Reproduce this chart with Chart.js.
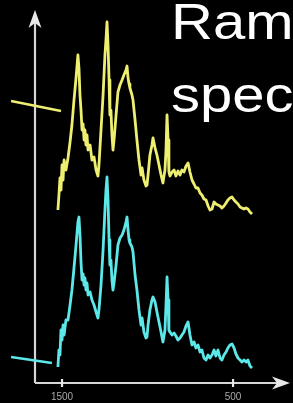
<!DOCTYPE html>
<html>
<head>
<meta charset="utf-8">
<script src="https://cdn.jsdelivr.net/npm/chart.js@4.4.1/dist/chart.umd.min.js"></script>
<style>
html, body { margin: 0; padding: 0; background: #000; }
canvas { display: block; }
</style>
</head>
<body>
<canvas id="raman" width="293" height="403"></canvas>
<script>
// Raman shift (cm-1)
const wavenumbers = [
    1524, 1518, 1512, 1506, 1500, 1494, 1488, 1477, 1465, 1453, 1442, 1430, 1418, 1407,
    1401, 1395, 1389, 1383, 1377, 1371, 1366, 1360, 1354, 1348, 1336, 1325, 1313, 1301,
    1290, 1284, 1272, 1260, 1249, 1243, 1237, 1231, 1225, 1220, 1214, 1208, 1202, 1196,
    1184, 1173, 1161, 1149, 1138, 1126, 1120, 1114, 1108, 1103, 1091, 1085, 1073, 1062,
    1050, 1038, 1032, 1021, 1009, 1003, 997, 986, 974, 968, 956, 945, 933, 921, 910, 904,
    898, 892, 886, 880, 875, 869, 857, 845, 834, 822, 810, 799, 787, 775, 763, 752, 740,
    728, 717, 705, 693, 682, 670, 658, 646, 635, 623, 611, 600, 588, 576, 565, 553, 541,
    530, 518, 506, 494, 483, 471, 459, 448, 436, 424, 413, 401, 389
];

// upper (yellow) trace, arbitrary intensity units
const upperSpectrum = [
    173, 188, 205, 193, 218, 203, 223, 213, 225, 241, 258, 283, 305, 328,
    315, 288, 273, 253, 259, 243, 253, 238, 248, 233, 238, 223, 226, 213,
    207, 218, 253, 288, 328, 343, 361, 338, 303, 268, 273, 248, 233, 243,
    268, 291, 298, 303, 308, 313, 317, 305, 299, 295, 288, 283, 263, 243,
    223, 208, 215, 203, 197, 198, 208, 228, 238, 245, 235, 228, 218, 208, 200, 207,
    213, 233, 268, 243, 211, 207, 211, 213, 207, 212, 208, 213, 211, 217, 220, 211, 203,
    199, 195, 195, 190, 188, 184, 183, 177, 173, 174, 181, 179, 178, 177, 175, 177, 180,
    183, 185, 186, 183, 181, 179, 176, 175, 174, 175, 174, 171, 169
];

// lower (cyan) trace
const lowerSpectrum = [
    16, 33, 28, 53, 43, 58, 48, 63, 63, 78, 93, 115, 138, 161,
    166, 148, 121, 103, 109, 98, 105, 93, 100, 88, 91, 83, 78, 71,
    65, 73, 98, 133, 173, 193, 206, 183, 143, 118, 123, 103, 93, 100,
    118, 138, 145, 148, 153, 161, 166, 153, 143, 140, 136, 131, 108, 93,
    73, 58, 65, 51, 45, 46, 58, 73, 83, 86, 81, 71, 61, 51, 41, 47,
    53, 78, 106, 83, 53, 51, 48, 50, 47, 43, 45, 48, 51, 57, 61, 48, 38,
    41, 35, 38, 31, 33, 25, 23, 28, 25, 28, 33, 27, 33, 25, 23, 28, 31,
    35, 38, 39, 35, 29, 25, 23, 21, 23, 21, 23, 17, 15
];

// short pointer lines at the left of each trace
const upperPointerX = [1798, 1506];
const upperPointerY = [282, 272];
const lowerPointerX = [1798, 1559];
const lowerPointerY = [26, 20];

const xTicks = [1500, 500];
const titleLines = ['Ram', 'spec'];

const yellow = '#eeee70';
const cyan = '#5ce8e8';

function toPoints(xs, ys) {
    return xs.map((x, i) => ({ x: x, y: ys[i] }));
}

const arrowAxes = {
    id: 'arrowAxes',
    beforeDatasetsDraw(chart) {
        const { ctx, chartArea, scales } = chart;
        const left = chartArea.left;
        const bottom = chartArea.bottom;
        const top = chartArea.top;
        const right = chartArea.right;
        ctx.save();
        ctx.strokeStyle = '#d6d6d6';
        ctx.fillStyle = '#e8e8e8';
        ctx.lineWidth = 2.2;
        ctx.beginPath();
        ctx.moveTo(left, bottom);
        ctx.lineTo(left, top + 12);
        ctx.moveTo(left, bottom);
        ctx.lineTo(right - 12, bottom);
        ctx.stroke();

        // arrow heads
        ctx.beginPath();
        ctx.moveTo(left, top);
        ctx.lineTo(left - 6.5, top + 18);
        ctx.lineTo(left, top + 13);
        ctx.lineTo(left + 6.5, top + 18);
        ctx.closePath();
        ctx.fill();
        ctx.beginPath();
        ctx.moveTo(right, bottom);
        ctx.lineTo(right - 18, bottom - 6.5);
        ctx.lineTo(right - 13, bottom);
        ctx.lineTo(right - 18, bottom + 6.5);
        ctx.closePath();
        ctx.fill();

        // tick marks and labels
        ctx.font = '10px "Liberation Sans", Arial, sans-serif';
        ctx.textAlign = 'center';
        ctx.textBaseline = 'middle';
        xTicks.forEach((v) => {
            const x = scales.x.getPixelForValue(v);
            ctx.strokeStyle = '#e8e8e8';
            ctx.beginPath();
            ctx.moveTo(x, bottom - 4);
            ctx.lineTo(x, bottom + 4);
            ctx.stroke();
            ctx.fillStyle = '#a8a8a8';
            ctx.fillText(String(v), x, bottom + 14);
        });
        ctx.restore();
    }
};

const slideText = {
    id: 'slideText',
    afterDraw(chart) {
        const ctx = chart.ctx;
        ctx.save();
        ctx.fillStyle = '#ffffff';
        ctx.font = '50px "Liberation Sans", Arial, sans-serif';
        ctx.textAlign = 'left';
        ctx.textBaseline = 'alphabetic';
        const baselines = [39, 112];
        titleLines.forEach((line, i) => {
            ctx.save();
            ctx.translate(171, baselines[i]);
            ctx.scale(1.16, 1);
            ctx.fillText(line, 0, 0);
            ctx.restore();
        });
        ctx.restore();
    }
};

new Chart(document.getElementById('raman'), {
    type: 'line',
    data: {
        datasets: [
            {
                data: toPoints(wavenumbers, upperSpectrum),
                borderColor: yellow,
                borderWidth: 2.8
            },
            {
                data: toPoints(wavenumbers, lowerSpectrum),
                borderColor: cyan,
                borderWidth: 2.8
            },
            {
                data: toPoints(upperPointerX, upperPointerY),
                borderColor: yellow,
                borderWidth: 2.6,
                clip: false
            },
            {
                data: toPoints(lowerPointerX, lowerPointerY),
                borderColor: cyan,
                borderWidth: 2.6,
                clip: false
            }
        ]
    },
    options: {
        responsive: false,
        animation: false,
        layout: {
            padding: { left: 35, right: 3, top: 10, bottom: 20 }
        },
        elements: {
            point: { radius: 0 },
            line: { tension: 0, borderJoinStyle: 'round' }
        },
        scales: {
            x: { type: 'linear', reverse: true, min: 167, max: 1658, display: false },
            y: { min: 0, max: 373, display: false }
        },
        plugins: {
            legend: { display: false },
            tooltip: { enabled: false }
        }
    },
    plugins: [arrowAxes, slideText]
});
</script>
</body>
</html>
